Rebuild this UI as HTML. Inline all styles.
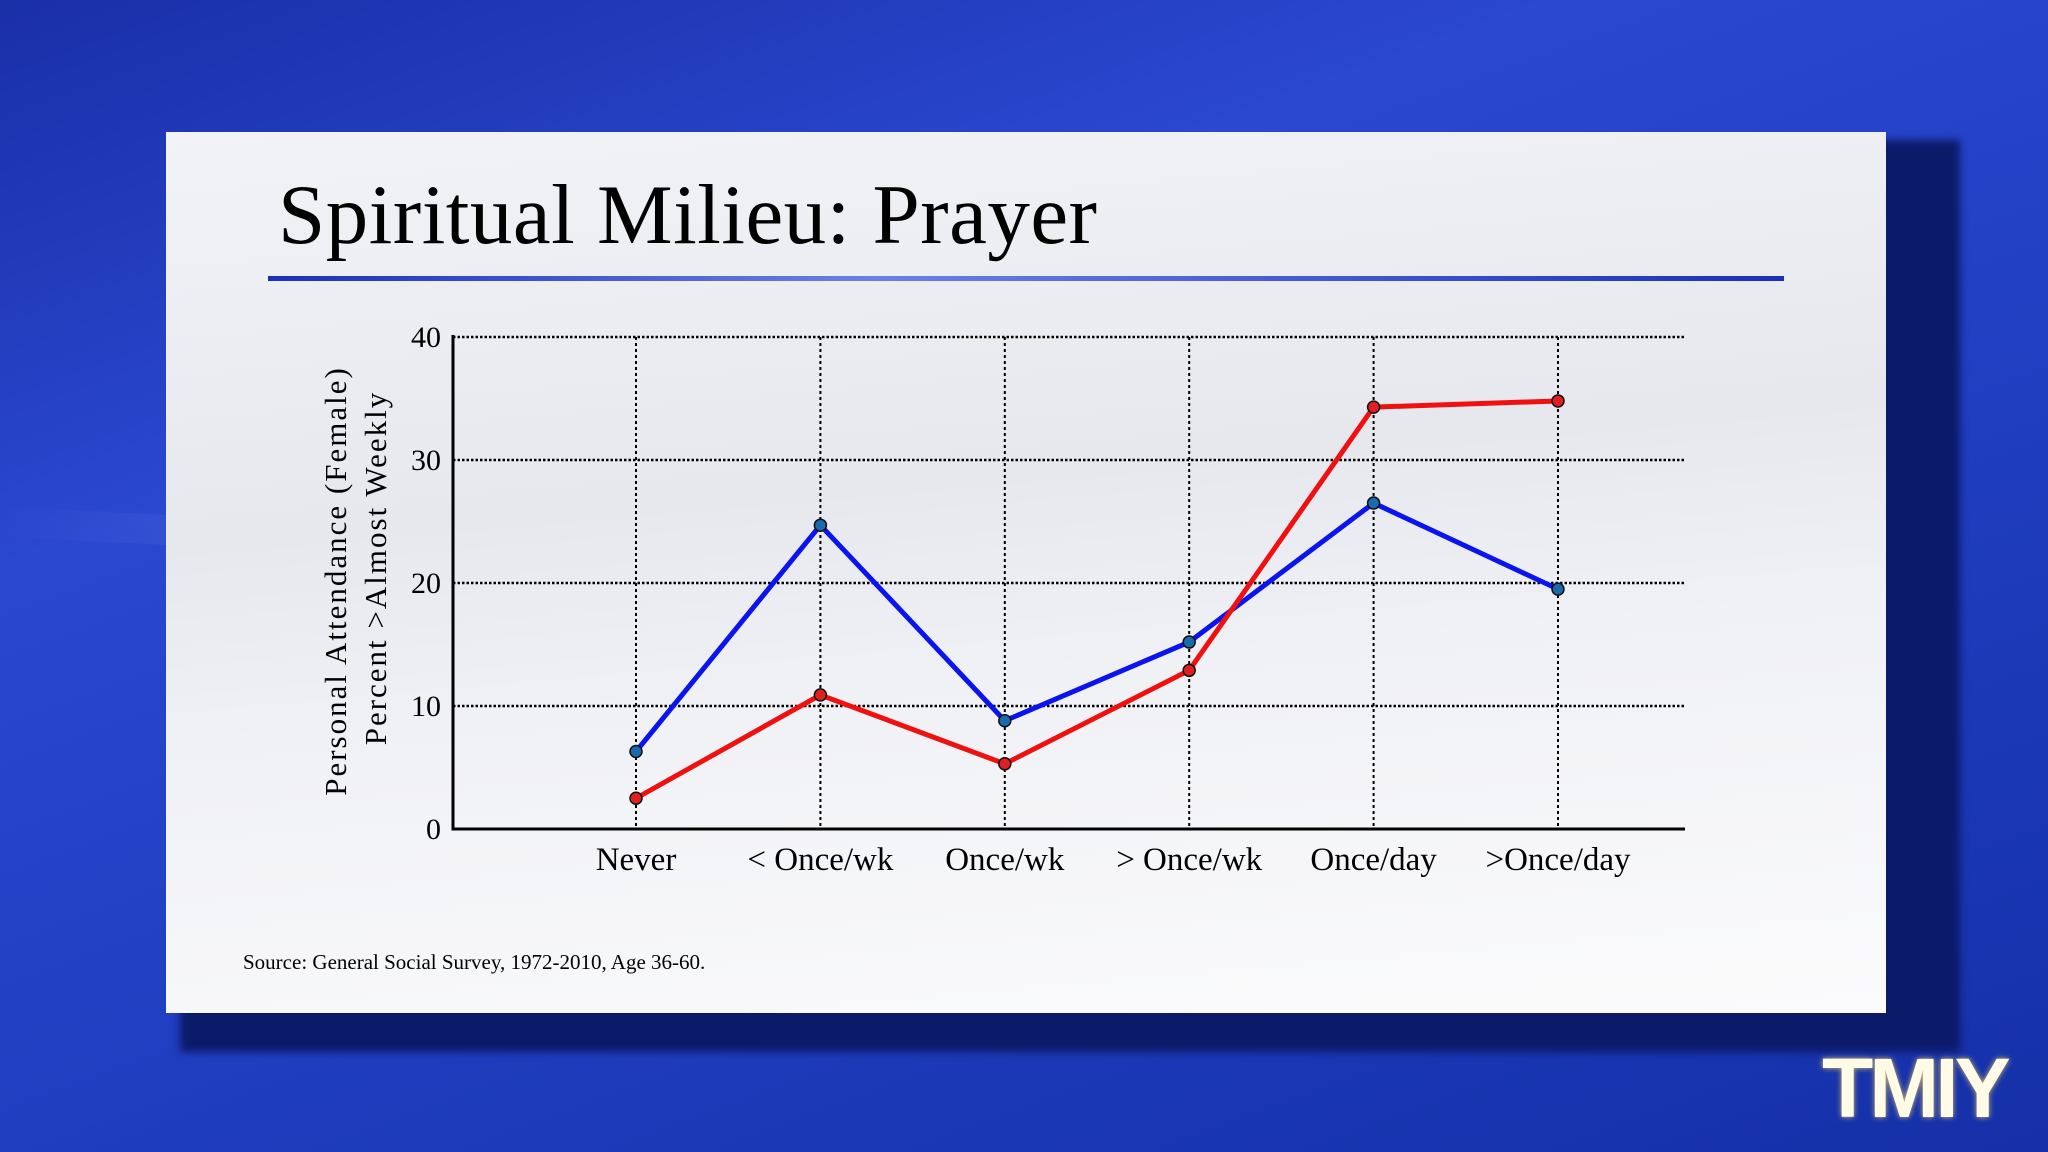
<!DOCTYPE html>
<html><head><meta charset="utf-8">
<style>
html,body{margin:0;padding:0;width:2048px;height:1152px;overflow:hidden;}
body{background:linear-gradient(160deg,#1a2fa8 0%,#2a48d0 30%,#1f3ec0 60%,#1530a8 100%);position:relative;font-family:"Liberation Serif",serif;}
.streak{position:absolute;left:0;width:2048px;height:30px;background:linear-gradient(90deg,rgba(255,255,255,0) 0%,rgba(180,200,255,.25) 30%,rgba(255,255,255,0) 70%);transform:rotate(3deg);}
#shadow{position:absolute;left:180px;top:140px;width:1780px;height:912px;background:#0c1a6a;filter:blur(4px);}
#panel{position:absolute;left:166px;top:132px;width:1720px;height:881px;background:linear-gradient(175deg,#f2f3f6 0%,#e6e8ee 40%,#f0f1f5 60%,#fbfbfc 100%);}
#title{position:absolute;left:278px;top:166px;font-size:85px;color:#000;white-space:nowrap;letter-spacing:0.5px;}
#rule{position:absolute;left:268px;top:276px;width:1516px;height:5px;background:linear-gradient(90deg,#1a2fc0,#6a80e8 40%,#1a2fc0);}
#src{position:absolute;left:243px;top:950px;font-size:21px;}
#logo{position:absolute;left:1822px;top:1040px;font-family:"Liberation Sans",sans-serif;font-weight:bold;font-size:84px;color:#fffbe6;letter-spacing:-4px;text-shadow:0 0 6px #d8c060;}
</style></head><body>
<div class="streak" style="top:560px"></div>
<div id="shadow"></div>
<div id="panel"></div>
<div id="title">Spiritual Milieu: Prayer</div>
<div id="rule"></div>
<svg id="chart" width="2048" height="1152" style="position:absolute;left:0;top:0"></svg>
<div id="src">Source: General Social Survey, 1972-2010, Age 36-60.</div>
<div id="logo">TMIY</div>
<script>
const categories=["Never","< Once/wk","Once/wk","> Once/wk","Once/day",">Once/day"];
const blueValues=[6.3,24.7,8.8,15.2,26.5,19.5];
const redValues=[2.5,10.9,5.3,12.9,34.3,34.8];
const yTicks=[0,10,20,30,40];
const svg=document.getElementById('chart');
const NS='http://www.w3.org/2000/svg';
const L=453,R=1685,Y0=829,Y40=337,yMax=40;
const x0=636,dx=184.4;
const xs=i=>x0+i*dx;
const ys=v=>Y0-(v/yMax)*(Y0-Y40);
function mk(t,a){const e=document.createElementNS(NS,t);for(const k in a)e.setAttribute(k,a[k]);svg.appendChild(e);return e;}
yTicks.forEach(v=>{
  if(v>0){const g=mk('line',{x1:L,x2:R,y1:ys(v),y2:ys(v),stroke:'#000','stroke-width':2.5,'stroke-dasharray':'2.5 2'});
  }
  const t=mk('text',{x:L-12,y:ys(v)+10,'text-anchor':'end','font-size':30,'font-family':'Liberation Serif, serif'});
  t.textContent=v;
});
categories.forEach((c,i)=>{
  const g=mk('line',{x1:xs(i),x2:xs(i),y1:Y40,y2:Y0,stroke:'#000','stroke-width':2,'stroke-dasharray':'3 3'});
  
  const t=mk('text',{x:xs(i),y:Y0+41,'text-anchor':'middle','font-size':33,'font-family':'Liberation Serif, serif'});
  t.textContent=c;
});
const ax=mk('path',{d:`M${L},${Y40-2} L${L},${Y0} L${R},${Y0}`,fill:'none',stroke:'#000','stroke-width':3});

function series(vals,col,mc,name){
  const p=mk('polyline',{points:vals.map((v,i)=>xs(i)+','+ys(v)).join(' '),fill:'none',stroke:col,'stroke-width':5,'stroke-linejoin':'round'});
  
  vals.forEach((v,i)=>{const c=mk('circle',{cx:xs(i),cy:ys(v),r:6,fill:mc,stroke:'#111','stroke-width':1.5});
  });
}
series(blueValues,'#0a14f0','#1a6ab0','blue-series');
series(redValues,'#f01010','#e02020','red-series');
const yt=mk('text',{transform:'translate(346,581) rotate(-90)','text-anchor':'middle','font-size':31,'letter-spacing':'2','font-family':'Liberation Serif, serif'});
yt.textContent='Personal Attendance (Female)';
const yt2=mk('text',{transform:'translate(386,568) rotate(-90)','text-anchor':'middle','font-size':31,'letter-spacing':'2','font-family':'Liberation Serif, serif'});
yt2.textContent='Percent >Almost Weekly';
</script>
</body></html>
